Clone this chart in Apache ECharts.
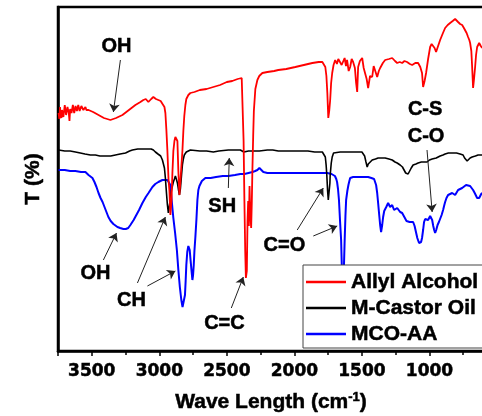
<!DOCTYPE html>
<html>
<head>
<meta charset="utf-8">
<script src="https://cdn.jsdelivr.net/npm/echarts@6/dist/echarts.min.js"></script>
<style>
html,body{margin:0;padding:0;background:#fff;}
#c{width:482px;height:416px;}
</style>
</head>
<body>
<div id="c"></div>
<script>
// Wavenumber (cm-1) vs transmittance (arbitrary offset units)
const seriesNames = ['Allyl Alcohol', 'M-Castor Oil', 'MCO-AA'];

const allylAlcohol = [
 [3746,238],[3740,232],[3735,244],[3730,236],[3725,233],[3720,241],[3715,243],[3710,234],[3705,235],[3700,246],
 [3695,245],[3690,236],[3685,237],[3680,244],[3675,243],[3670,238],[3665,230],[3660,242],[3655,244],[3650,238],
 [3645,239],[3640,246],[3635,245],[3630,238],[3625,239],[3620,245],[3615,244],[3610,240],[3605,241],[3600,246],
 [3595,245],[3590,240],[3585,242],[3577,245],[3570,244],[3562,241],[3555,242],[3547,244],[3540,241],[3524,241],
 [3490,239],[3450,236],[3410,233],[3362,231],[3320,233],[3273,236],[3225,241],[3177,246],[3140,249],[3118,251],
 [3100,252],[3081,249],[3060,252],[3044,254],[3025,252],[3007,251],[2990,250],[2977,248],[2962,244],[2955,238],
 [2948,222],[2940,200],[2932,172],[2925,160],[2918,136],[2910,150],[2903,178],[2896,200],[2888,210],[2881,214],
 [2874,213],[2866,210],[2859,180],[2851,156],[2844,170],[2836,186],[2829,200],[2822,220],[2815,235],[2807,246],
 [2800,252],[2785,256],[2770,258],[2740,259],[2700,261],[2650,262],[2600,264],[2550,266],[2500,269],[2460,270],
 [2420,272],[2390,273],[2381,272],[2376,210],[2370,150],[2364,100],[2359,73],[2352,80],[2347,130],[2342,150],
 [2337,125],[2332,165],[2327,140],[2320,123],[2315,150],[2311,180],[2305,215],[2300,240],[2289,262],[2274,271],
 [2260,275],[2237,278],[2200,279],[2150,280],[2119,281],[2060,282],[1993,284],[1930,286],[1867,288],[1820,289],
 [1793,289],[1780,287],[1771,284],[1763,275],[1756,258],[1749,233],[1742,240],[1735,251],[1728,268],[1720,278],
 [1710,286],[1698,291],[1685,287],[1675,292],[1661,293],[1650,286],[1639,288],[1628,293],[1618,285],[1610,291],
 [1598,280],[1587,284],[1576,292],[1565,289],[1552,283],[1543,268],[1535,259],[1528,284],[1515,290],[1498,293],
 [1487,283],[1476,281],[1465,272],[1454,263],[1440,275],[1424,274],[1413,285],[1402,283],[1387,274],[1375,280],
 [1365,283],[1345,288],[1328,291],[1300,292],[1276,293],[1255,290],[1239,288],[1220,289],[1202,288],[1185,290],
 [1166,289],[1145,287],[1128,286],[1105,288],[1084,288],[1068,284],[1055,278],[1047,264],[1036,270],[1025,278],
 [1010,292],[995,304],[984,307],[973,308],[962,303],[951,299],[936,305],[921,311],[900,318],[884,323],
 [865,326],[847,328],[828,330],[810,332],[798,330],[788,329],[773,327],[758,326],[745,323],[736,323],
 [725,318],[714,314],[705,311],[699,308],[690,300],[684,284],[677,263],[670,272],[662,284],[655,296],
 [647,304],[640,306],[632,308],[620,305],[610,303]
];

const castorOil = [
 [3746,201],[3700,200],[3660,200],[3621,199],[3585,198],[3550,197],[3510,196],[3473,196],[3440,195],[3400,195],
 [3360,195],[3325,196],[3290,197],[3250,198],[3220,200],[3199,201],[3160,202],[3125,202],[3081,202],[3060,202],
 [3044,201],[3029,199],[3010,197],[2990,195],[2977,191],[2962,183],[2955,173],[2947,158],[2940,146],[2933,138],
 [2925,146],[2918,152],[2910,161],[2903,165],[2896,169],[2888,172],[2881,175],[2874,172],[2866,168],[2859,162],
 [2851,156],[2844,162],[2836,175],[2829,186],[2822,192],[2815,196],[2800,199],[2770,201],[2700,200],[2650,200],
 [2600,199],[2560,200],[2489,201],[2440,201],[2400,201],[2374,199],[2340,200],[2300,200],[2260,200],[2200,201],
 [2160,201],[2119,200],[2060,200],[2000,200],[1950,200],[1900,200],[1850,199],[1793,199],[1780,197],[1771,194],
 [1765,186],[1760,176],[1754,160],[1749,151],[1742,153],[1737,168],[1735,176],[1727,188],[1720,194],[1710,198],
 [1698,199],[1661,199],[1600,199],[1550,199],[1500,199],[1490,198],[1480,195],[1470,189],[1461,184],[1453,187],
 [1445,189],[1424,191],[1400,192],[1380,193],[1350,193],[1328,193],[1300,192],[1276,191],[1255,189],[1239,188],
 [1217,186],[1200,184],[1188,181],[1176,178],[1166,176],[1158,177],[1150,179],[1135,183],[1121,186],[1100,187],
 [1084,188],[1060,189],[1040,189],[1018,189],[1000,191],[980,192],[950,193],[921,195],[900,196],[884,197],
 [860,198],[832,198],[800,198],[773,197],[760,196],[751,196],[740,193],[730,191],[721,190],[710,192],
 [699,193],[684,194],[660,195],[640,196],[625,196],[610,196]
];

const mcoAA = [
 [3746,181],[3700,181],[3660,180],[3621,180],[3580,179],[3547,179],[3524,176],[3495,173],[3480,169],[3465,164],
 [3450,158],[3435,153],[3420,149],[3400,142],[3377,134],[3360,130],[3340,127],[3310,124],[3290,123],[3266,122],
 [3248,122],[3230,123],[3214,126],[3190,131],[3170,136],[3150,141],[3125,148],[3100,154],[3080,158],[3051,164],
 [3030,167],[3007,169],[2977,171],[2955,171],[2940,171],[2928,170],[2918,166],[2908,150],[2896,133],[2883,118],
 [2870,101],[2859,81],[2848,64],[2837,51],[2828,44],[2822,42],[2816,46],[2810,56],[2805,70],[2800,86],
 [2793,99],[2785,105],[2780,104],[2775,101],[2768,90],[2762,81],[2755,71],[2750,76],[2745,86],[2740,100],
 [2733,114],[2725,132],[2718,151],[2711,161],[2703,165],[2696,167],[2685,170],[2674,171],[2659,173],[2620,173],
 [2580,174],[2530,175],[2489,175],[2440,176],[2400,177],[2370,177],[2340,178],[2310,179],[2290,180],[2274,181],
 [2266,182],[2259,183],[2252,182],[2245,181],[2230,179],[2200,178],[2150,178],[2100,178],[2050,178],[2000,178],
 [1950,178],[1900,178],[1850,178],[1800,178],[1756,178],[1725,177],[1700,175],[1690,172],[1684,169],[1677,162],
 [1670,151],[1662,130],[1654,111],[1648,80],[1643,55],[1638,55],[1633,85],[1628,110],[1622,135],[1617,151],
 [1608,160],[1600,166],[1593,170],[1587,173],[1565,174],[1540,174],[1500,174],[1454,174],[1430,173],[1410,172],
 [1402,170],[1395,166],[1387,158],[1380,148],[1372,136],[1365,126],[1358,119],[1350,126],[1343,134],[1335,140],
 [1320,144],[1313,146],[1306,148],[1298,146],[1291,144],[1284,143],[1276,146],[1269,144],[1262,141],[1250,142],
 [1239,143],[1228,141],[1217,139],[1210,138],[1202,138],[1190,135],[1180,133],[1170,130],[1158,128],[1147,129],
 [1136,129],[1121,129],[1110,125],[1100,119],[1090,113],[1077,108],[1069,106],[1062,109],[1055,113],[1047,121],
 [1040,129],[1032,132],[1025,133],[1018,132],[1010,131],[1003,131],[995,135],[988,134],[980,131],[972,125],
 [965,121],[958,118],[950,121],[940,126],[930,129],[921,131],[910,136],[899,141],[890,146],[884,149],
 [874,153],[862,156],[850,157],[832,158],[820,157],[810,156],[800,158],[788,161],[775,162],[758,163],
 [745,165],[729,166],[715,166],[699,165],[690,163],[677,161],[665,158],[655,156],[647,153],[640,151],
 [632,153],[625,155],[617,157],[610,158]
];

// Peak assignments (text at [wavenumber, T])
const annotationTexts = [
 ['OH', 3317, 305], ['SH', 2534, 145], ['OH', 3473, 78], ['CH', 3206, 51],
 ['C=C', 2518, 28], ['C=O', 2074, 106], ['C-S', 1032, 242], ['C-O', 1025, 215]
];
// Arrows [from, to] in [wavenumber, T]
const annotationArrows = [
 [[3288,291],[3340,239]],
 [[2489,163],[2482,193]],
 [[3414,91],[3317,118]],
 [[3162,68],[2955,134]],
 [[3088,65],[2881,80]],
 [[2467,43],[2378,74]],
 [[1979,121],[1786,163]],
 [[1860,115],[1683,125]],
 [[1018,201],[980,139]]
];

const FONT = 'Liberation Sans';
const BOLDER = {textBorderColor: '#000', textBorderWidth: 0.5};
const chart = echarts.init(document.getElementById('c'), null, {renderer: 'canvas'});

chart.setOption({
  animation: false,
  backgroundColor: '#fff',
  grid: {
    left: 58, top: 7, right: -15, bottom: 65,
    outerBoundsMode: 'none', containLabel: false,
    show: true, borderColor: '#000', borderWidth: 2.5, backgroundColor: 'transparent'
  },
  legend: {
    data: seriesNames,
    orient: 'vertical',
    left: 303, top: 265,
    itemWidth: 40, itemHeight: 14, itemGap: 0,
    padding: [4, 10, 1, 3],
    backgroundColor: '#fff',
    borderColor: '#444', borderWidth: 1,
    textStyle: Object.assign({fontFamily: FONT, fontWeight: 'bold', fontSize: 21, color: '#000', lineHeight: 26}, BOLDER),
    icon: 'path://M0,0L40,0L40,2.4L0,2.4Z'
  },
  xAxis: {
    type: 'value',
    inverse: true,
    min: 500, max: 3750, interval: 500,
    splitLine: {show: false},
    axisLine: {show: true, onZero: false, lineStyle: {color: '#000', width: 2.5}},
    axisTick: {show: true, length: 5, lineStyle: {color: '#000', width: 1.5}},
    minorTick: {show: true, splitNumber: 2, length: 4, lineStyle: {color: '#000', width: 1.5}},
    axisLabel: Object.assign({
      showMinLabel: false, showMaxLabel: false, margin: 12,
      formatter: v => String(v),
      fontFamily: 'DejaVu Sans', fontWeight: 'bold', fontSize: 17, color: '#000'
    }, BOLDER),
    name: '{n|Wave Length (cm}{s|-1}{n|)}',
    nameLocation: 'middle',
    nameGap: 40,
    nameTextStyle: {
      padding: [0, 13, 0, 0],
      rich: {
        n: Object.assign({fontFamily: FONT, fontWeight: 'bold', fontSize: 21, color: '#000'}, BOLDER),
        s: Object.assign({fontFamily: FONT, fontWeight: 'bold', fontSize: 13, color: '#000', verticalAlign: 'bottom', padding: [0, 0, 9, 0]}, BOLDER)
      }
    }
  },
  yAxis: {
    type: 'value',
    min: 0, max: 344,
    splitLine: {show: false},
    axisLine: {show: true, lineStyle: {color: '#000', width: 2.5}},
    axisTick: {show: false},
    axisLabel: {show: false},
    name: 'T (%)',
    nameLocation: 'middle',
    nameGap: 14,
    nameTextStyle: Object.assign({fontFamily: FONT, fontWeight: 'bold', fontSize: 21, color: '#000'}, BOLDER)
  },
  series: [
    {
      name: seriesNames[2], type: 'line', data: mcoAA, showSymbol: false, symbol: 'none',
      lineStyle: {color: '#0000ff', width: 2}, itemStyle: {color: '#0000ff'}, z: 2
    },
    {
      name: seriesNames[1], type: 'line', data: castorOil, showSymbol: false, symbol: 'none',
      lineStyle: {color: '#000000', width: 1.6}, itemStyle: {color: '#000000'}, z: 3
    },
    {
      name: seriesNames[0], type: 'line', data: allylAlcohol, showSymbol: false, symbol: 'none',
      lineStyle: {color: '#ff0000', width: 1.8}, itemStyle: {color: '#ff0000'}, z: 4,
      markLine: {
        silent: true, animation: false,
        symbol: ['none', 'arrow'], symbolSize: 8,
        label: {show: false},
        itemStyle: {color: '#222'},
        lineStyle: {color: '#222', width: 1, type: 'solid'},
        data: annotationArrows.map(a => [{coord: a[0]}, {coord: a[1]}])
      },
      markPoint: {
        silent: true, animation: false,
        symbol: 'circle', symbolSize: 0,
        data: annotationTexts.map(t => ({
          coord: [t[1], t[2]], value: t[0],
          label: Object.assign({show: true, position: 'inside', formatter: t[0], fontFamily: FONT, fontWeight: 'bold', fontSize: 20, color: '#000'}, BOLDER)
        }))
      }
    }
  ]
});
</script>
</body>
</html>
